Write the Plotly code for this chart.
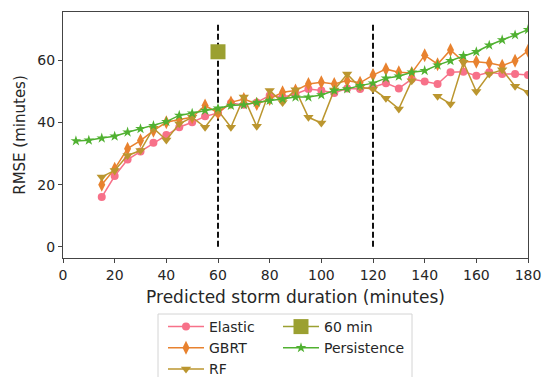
import plotly.graph_objects as go

# ---------------- data ----------------
persist_x = list(range(5, 181, 5))
persist_y = [34.1, 34.3, 35.0, 35.6, 36.9, 38.0, 39.0, 40.3, 42.3, 43.0,
             43.9, 44.6, 45.5, 45.7, 46.5, 47.1, 47.6, 48.2, 48.2, 48.9,
             50.3, 50.8, 51.9, 52.7, 54.3, 54.9, 56.2, 56.7, 58.5, 59.9,
             61.5, 62.8, 64.9, 66.6, 68.2, 69.9]

model_x = list(range(15, 181, 5))
elastic_y = [16.0, 22.8, 28.1, 30.7, 33.5, 36.0, 38.5, 40.1, 42.0, 43.1,
             46.3, 45.7, 46.5, 48.7, 48.2, 49.2, 50.8, 50.3, 49.5, 51.0,
             50.8, 51.4, 52.7, 51.0, 54.0, 53.2, 52.4, 56.2, 56.4, 55.1,
             56.2, 55.6, 55.6, 55.3]
gbrt_y = [20.0, 25.1, 31.6, 34.2, 37.4, 40.1, 41.0, 41.7, 45.5, 43.1,
          46.5, 47.6, 46.0, 47.6, 49.8, 50.3, 52.4, 53.0, 52.4, 53.5,
          52.8, 55.3, 57.2, 56.2, 56.0, 61.7, 58.8, 63.4, 59.6, 59.6,
          59.2, 58.3, 59.9, 63.1]
rf_y = [22.5, 24.6, 29.4, 31.0, 38.2, 34.4, 39.6, 41.7, 38.5, 43.9,
        38.5, 48.2, 38.8, 50.3, 46.5, 50.6, 41.7, 39.9, 50.5, 55.6,
        51.4, 50.8, 47.8, 44.4, 53.5, None, 48.5, 46.0, 59.4, 50.0,
        55.6, 57.0, 51.7, 49.8]

min60_x = [60]
min60_y = [62.8]

vline_x = [60, 120]
vline_y = [0, 72]

x_ticks = [0, 20, 40, 60, 80, 100, 120, 140, 160, 180]
y_ticks = [0, 20, 40, 60]

# ---------------- styles ----------------
C_EL = "#f77189"
C_GB = "#e8822f"
C_RF = "#bb962f"
C_60 = "#9ba031"
C_PE = "#50b131"
FONT = "DejaVu Sans"

fig = go.Figure()

for vx in vline_x:
    fig.add_trace(go.Scatter(
        x=[vx, vx], y=vline_y, mode="lines",
        line=dict(color="#111111", width=2, dash="6px,3px"),
        showlegend=False, hoverinfo="skip"))

fig.add_trace(go.Scatter(
    x=model_x, y=elastic_y, name="Elastic", mode="lines+markers",
    line=dict(color=C_EL, width=1.5),
    marker=dict(symbol="circle", size=8, color=C_EL),
    legend="legend"))
fig.add_trace(go.Scatter(
    x=model_x, y=gbrt_y, name="GBRT", mode="lines+markers",
    line=dict(color=C_GB, width=1.5),
    marker=dict(symbol="diamond-tall", size=10, color=C_GB),
    legend="legend"))
fig.add_trace(go.Scatter(
    x=model_x, y=rf_y, name="RF", mode="lines+markers",
    line=dict(color=C_RF, width=1.5), connectgaps=False,
    marker=dict(symbol="triangle-down", size=9, color=C_RF),
    legend="legend"))
fig.add_trace(go.Scatter(
    x=min60_x, y=min60_y, name="60 min", mode="lines+markers",
    line=dict(color=C_60, width=1.5),
    marker=dict(symbol="square", size=15, color=C_60),
    legend="legend2"))
fig.add_trace(go.Scatter(
    x=persist_x, y=persist_y, name="Persistence", mode="lines+markers",
    line=dict(color=C_PE, width=1.5),
    marker=dict(symbol="star", size=8, color=C_PE),
    legend="legend2"))

axis_common = dict(
    showline=True, mirror=True, linecolor="#444444", linewidth=1,
    ticks="outside", ticklen=4, tickcolor="#444444", tickwidth=1,
    showgrid=False, zeroline=False, automargin=False,
    tickfont=dict(family=FONT, size=14, color="#262626"),
)

legend_common = dict(xanchor="left", yanchor="top", itemwidth=36,
                     bgcolor="rgba(0,0,0,0)", borderwidth=0, tracegroupgap=0,
                     font=dict(family=FONT, size=14, color="#262626"))

fig.update_layout(
    width=545, height=377,
    margin=dict(l=63, r=17, t=12, b=119, autoexpand=False),
    paper_bgcolor="white", plot_bgcolor="white",
    font=dict(family=FONT, size=14, color="#262626"),
    xaxis=dict(range=[0, 180], tickvals=x_ticks,
               title=dict(text="Predicted storm duration (minutes)",
                          font=dict(family=FONT, size=17, color="#262626"),
                          standoff=9),
               **axis_common),
    yaxis=dict(range=[-3.6, 75.6], tickvals=y_ticks,
               title=dict(text="RMSE (minutes)",
                          font=dict(family=FONT, size=15, color="#262626"),
                          standoff=8),
               **axis_common),
    legend=dict(x=(163 - 63) / 465, y=(258 - 311) / 246, **legend_common),
    legend2=dict(x=(278 - 63) / 465, y=(258 - 311) / 246, **legend_common),
    shapes=[dict(type="rect", xref="paper", yref="paper",
                 x0=(158 - 63) / 465, x1=(412 - 63) / 465,
                 y0=(258 - 392) / 246, y1=(258 - 314) / 246,
                 line=dict(color="#d4d4d4", width=1), fillcolor="rgba(0,0,0,0)",
                 layer="below")],
    showlegend=True,
)

fig.write_html("out.html")
